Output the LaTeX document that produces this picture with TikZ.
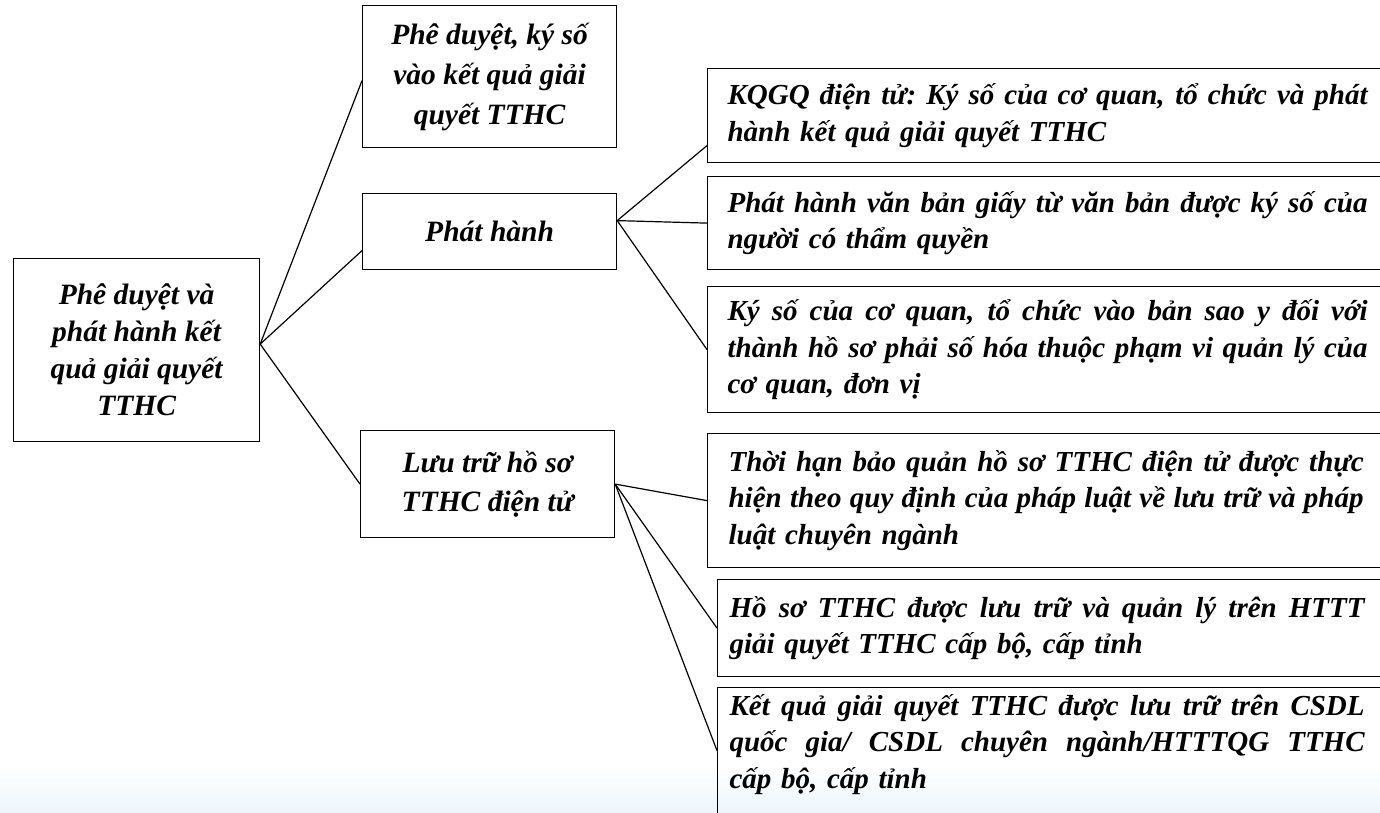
\documentclass[tikz,border=0pt]{standalone}
\usepackage{fontspec}
\setmainfont{Liberation Serif}
\usetikzlibrary{calc}
\newcommand\jl[2]{\leavevmode\hbox to #1{\spaceskip=.25em plus 1fil minus .12em\xspaceskip=\spaceskip #2}}
\definecolor{fadeblue}{RGB}{236,246,251}
\begin{document}
\begin{tikzpicture}[x=1pt,y=-1pt,
  box/.style={draw=black,line width=1.2pt,rectangle,anchor=north west,inner sep=0pt,
    font=\bfseries\itshape\fontsize{29.5}{37}\selectfont,align=center},
  rbox/.style={draw=black,line width=1.2pt,rectangle,anchor=north west,inner ysep=0pt,
    text width=660pt,font=\bfseries\itshape\fontsize{29}{36.5}\selectfont,align=left},
  link/.style={line width=1.2pt}]
\useasboundingbox (0,0) rectangle (1380,812);
\clip (0,0) rectangle (1380,812);
\fill[white] (0,0) rectangle (1380,812);
\shade[top color=white,bottom color=fadeblue] (0,765) rectangle (1380,812);

\node[box,minimum width=246pt,minimum height=183pt] (root) at (13,258)
  {Phê duyệt và\\phát hành kết\\quả giải quyết\\TTHC};
\node[box,minimum width=254pt,minimum height=142pt,font=\bfseries\itshape\fontsize{29.5}{40}\selectfont] (A) at (362,5)
  {Phê duyệt, ký số\\vào kết quả giải\\quyết TTHC};
\node[box,minimum width=254pt,minimum height=76pt] (B) at (362,193)
  {Phát hành};
\node[box,minimum width=254pt,minimum height=107pt,font=\bfseries\itshape\fontsize{29.5}{39}\selectfont] (C) at (360,430)
  {Lưu trữ hồ sơ\\TTHC điện tử};

\node[rbox,inner xsep=20pt,minimum height=94pt] (r1) at (707,68)
  {\jl{640pt}{KQGQ điện tử: Ký số của cơ quan, tổ chức và phát}\\hành kết quả giải quyết TTHC};
\node[rbox,inner xsep=20pt,minimum height=93pt] (r2) at (707,176)
  {\jl{640pt}{Phát hành văn bản giấy từ văn bản được ký số của}\\người có thẩm quyền};
\node[rbox,inner xsep=20pt,minimum height=126pt] (r3) at (707,286)
  {\jl{640pt}{Ký số của cơ quan, tổ chức vào bản sao y đối với}\\\jl{640pt}{thành hồ sơ phải số hóa thuộc phạm vi quản lý của}\\cơ quan, đơn vị};
\node[rbox,inner xsep=21pt,minimum height=134pt] (r4) at (707,433)
  {\jl{635pt}{Thời hạn bảo quản hồ sơ TTHC điện tử được thực}\\\jl{635pt}{hiện theo quy định của pháp luật về lưu trữ và pháp}\\luật chuyên ngành};
\node[rbox,inner xsep=12pt,minimum height=97pt] (r5) at (717,579)
  {\jl{635pt}{Hồ sơ TTHC được lưu trữ và quản lý trên HTTT}\\giải quyết TTHC cấp bộ, cấp tỉnh};
\node[rbox,inner xsep=12pt,minimum height=144pt] (r6) at (717,687)
  {\jl{635pt}{Kết quả giải quyết TTHC được lưu trữ trên CSDL}\\\jl{635pt}{quốc gia/ CSDL chuyên ngành/HTTTQG TTHC}\\cấp bộ, cấp tỉnh\\\mbox{}};

\draw[link] ($(root.east)+(0,-6)$) -- ($(A.west)+(0,4)$);
\draw[link] ($(root.east)+(0,-6)$) -- ($(B.west)+(0,19)$);
\draw[link] ($(root.east)+(0,-6)$) -- (C.west);
\draw[link] ($(B.east)+(0,-11)$) -- ($(r1.west)+(0,30)$);
\draw[link] ($(B.east)+(0,-11)$) -- (r2.west);
\draw[link] ($(B.east)+(0,-11)$) -- (r3.west);
\draw[link] (C.east) -- (r4.west);
\draw[link] (C.east) -- (r5.west);
\draw[link] (C.east) -- ($(r6.west)+(0,-9)$);
\end{tikzpicture}
\end{document}
